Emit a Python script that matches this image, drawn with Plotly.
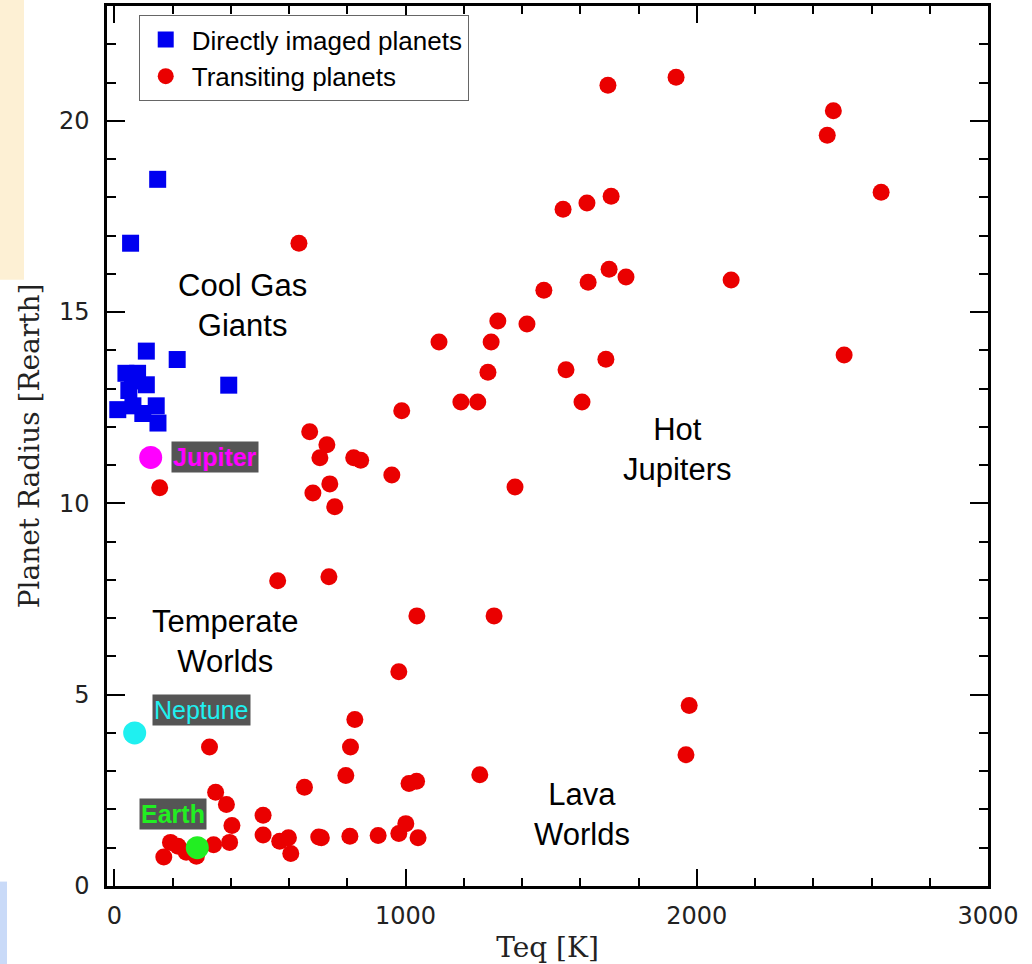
import plotly.graph_objects as go

# ---- data ----
img_teq = [149, 56, 110, 216, 393, 40, 80, 110, 12, 64, 98, 144, 150, 50, 62]
img_rad = [18.47, 16.8, 13.98, 13.76, 13.09, 13.4, 13.4, 13.1, 12.45, 12.55, 12.35, 12.55, 12.1, 12.95, 13.2]

tr_teq = [1695, 1929, 2469, 2448, 2633, 1541, 1623, 1706, 634, 1699, 1627, 1757, 2118, 1475,
          1317, 1417, 1115, 1294, 2506, 1688, 1551, 1283, 1190, 1248, 1606, 987, 671, 730,
          706, 822, 846, 953, 740, 682, 757, 1376, 156, 561, 737, 1039, 1304, 977, 1974,
          1963, 1255,
          327, 826, 811, 795, 653, 348, 385, 404, 396, 341, 511, 511, 568, 598, 606, 702,
          711, 809, 906, 977, 1001, 1043, 1012, 1038, 170, 193, 219, 247, 282]
tr_rad = [20.93, 21.14, 20.26, 19.62, 18.13, 17.69, 17.85, 18.03, 16.8, 16.12, 15.78, 15.92, 15.84, 15.57,
          14.77, 14.69, 14.22, 14.22, 13.88, 13.77, 13.49, 13.43, 12.65, 12.65, 12.65, 12.42, 11.87, 11.53,
          11.19, 11.19, 11.13, 10.74, 10.51, 10.27, 9.91, 10.43, 10.41, 7.98, 8.08, 7.06, 7.06, 5.6, 4.72,
          3.43, 2.91,
          3.63, 4.35, 3.63, 2.89, 2.58, 2.45, 2.13, 1.58, 1.14, 1.08, 1.85, 1.33, 1.17, 1.26, 0.85, 1.28,
          1.26, 1.3, 1.32, 1.37, 1.63, 1.26, 2.68, 2.74, 0.76, 1.14, 1.04, 0.88, 0.78]

planet_names = ["Jupiter", "Neptune", "Earth"]
planet_teq = [125, 70, 285]
planet_rad = [11.2, 4.0, 1.0]
planet_colors = ["#ff00ff", "#1ff0f0", "#22ee22"]
planet_label_teq = [346, 298, 202]
planet_label_rad = [11.2, 4.61, 1.89]
planet_label_bold = [True, False, True]

region_labels = ["Cool Gas<br>Giants", "Temperate<br>Worlds", "Hot<br>Jupiters", "Lava<br>Worlds"]
region_teq = [441, 379, 1933, 1606]
region_rad = [15.16, 6.38, 11.4, 1.87]

x_ticks = [0, 1000, 2000, 3000]
y_ticks = [0, 5, 10, 15, 20]

fig = go.Figure()

fig.add_trace(go.Scatter(
    x=tr_teq, y=tr_rad, mode="markers", name="Transiting planets", legendrank=2,
    marker=dict(symbol="circle", size=17, color="#ea0000", line=dict(width=0)),
))
fig.add_trace(go.Scatter(
    x=img_teq, y=img_rad, mode="markers", name="Directly imaged planets", legendrank=1,
    marker=dict(symbol="square", size=17, color="#0000f0", line=dict(width=0)),
))
fig.add_trace(go.Scatter(
    x=planet_teq, y=planet_rad, mode="markers", showlegend=False,
    marker=dict(symbol="circle", size=23, color=planet_colors, line=dict(width=0)),
))

for name, x, y, c, b in zip(planet_names, planet_label_teq, planet_label_rad, planet_colors, planet_label_bold):
    fig.add_annotation(
        x=x, y=y, xref="x", yref="y", text=f"<b>{name}</b>" if b else name,
        showarrow=False, xanchor="center", yanchor="middle",
        font=dict(family="Liberation Sans, Arial", size=25, color=c),
        bgcolor="#555555", borderpad=1,
    )

for t, x, y in zip(region_labels, region_teq, region_rad):
    fig.add_annotation(
        x=x, y=y, xref="x", yref="y", text=t, showarrow=False,
        xanchor="center", yanchor="middle",
        font=dict(family="Liberation Sans, Arial", size=31, color="black"),
    )

# slide decorations at the left edge
fig.add_shape(type="rect", xref="paper", yref="paper",
              x0=-0.1215, x1=-0.0942, y0=0.689, y1=1.01,
              fillcolor="#fdf0d4", line=dict(width=0), layer="below")
fig.add_shape(type="rect", xref="paper", yref="paper",
              x0=-0.1215, x1=-0.1135, y0=-0.09, y1=0.005,
              fillcolor="#c9daf8", line=dict(width=0), layer="below")

axis_common = dict(
    showline=True, linewidth=2.5, linecolor="black", mirror="ticks",
    ticks="inside", tickwidth=2, tickcolor="black",
    showgrid=False, zeroline=False, automargin=False,
    tickfont=dict(family="DejaVu Sans", size=24, color="#222222"),
)

fig.update_xaxes(
    range=[-25, 3000], tickvals=x_ticks, ticklen=17,
    minor=dict(dtick=200, tick0=0, ticks="inside", ticklen=8, tickwidth=2, tickcolor="black", showgrid=False),
    title=dict(text="Teq [K]", font=dict(family="DejaVu Serif", size=28, color="#222222"), standoff=13),
    ticklabelstandoff=6,
    **axis_common,
)
fig.update_yaxes(
    range=[0, 23], tickvals=y_ticks, ticklen=18,
    minor=dict(dtick=1, tick0=0, ticks="inside", ticklen=9, tickwidth=2, tickcolor="black", showgrid=False),
    title=dict(text="Planet Radius [Rearth]", font=dict(family="DejaVu Serif", size=28, color="#222222"), standoff=12),
    ticklabelstandoff=10,
    **axis_common,
)

fig.update_layout(
    width=1032, height=964,
    margin=dict(l=107, r=44, t=6, b=77.5, autoexpand=False),
    plot_bgcolor="white", paper_bgcolor="white",
    legend=dict(
        x=0.036, y=0.9898, xanchor="left", yanchor="top",
        bgcolor="white", bordercolor="#666666", borderwidth=1,
        font=dict(family="Liberation Sans, Arial", size=26, color="black"),
        itemwidth=42,
    ),
)

fig.write_html("out.html", config={"displayModeBar": False},
               post_script="document.body.style.margin='0px';")
